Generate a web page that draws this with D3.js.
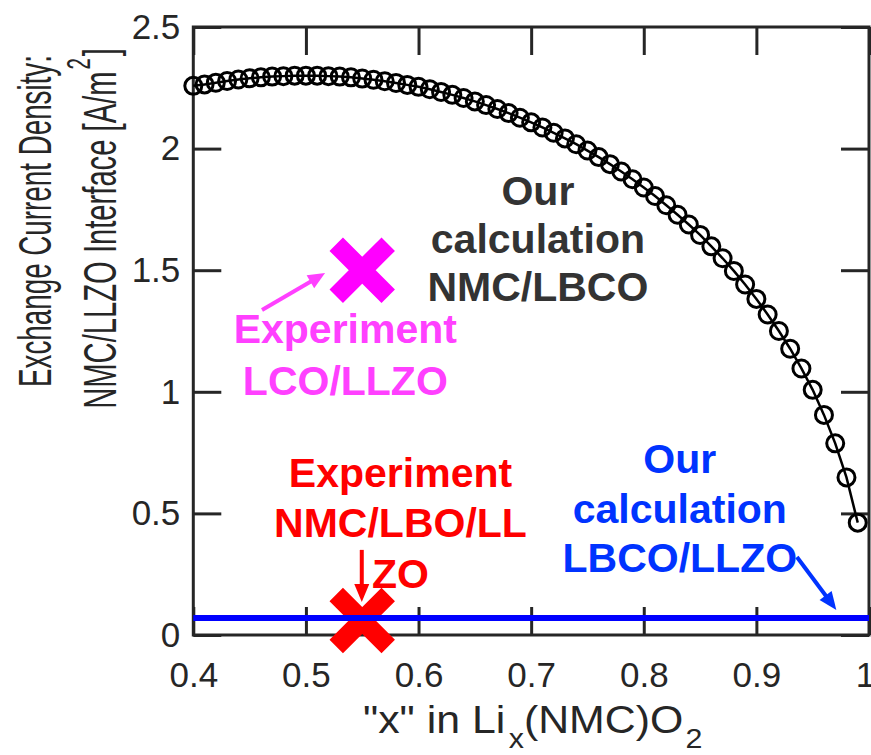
<!DOCTYPE html>
<html>
<head>
<meta charset="utf-8">
<script src="https://cdn.jsdelivr.net/npm/d3@7"></script>
<style>
  body { margin: 0; background: #fff; }
  svg { display: block; }
  text { font-family: "Liberation Sans", Arial, Helvetica, sans-serif; }
</style>
</head>
<body>
<svg id="chart" width="871" height="755"></svg>
<script>
// Li content x in Li_x(NMC)O2
const lithiumContent = [
  0.40, 0.41, 0.42, 0.43, 0.44, 0.45, 0.46, 0.47, 0.48, 0.49,
  0.50, 0.51, 0.52, 0.53, 0.54, 0.55, 0.56, 0.57, 0.58, 0.59,
  0.60, 0.61, 0.62, 0.63, 0.64, 0.65, 0.66, 0.67, 0.68, 0.69,
  0.70, 0.71, 0.72, 0.73, 0.74, 0.75, 0.76, 0.77, 0.78, 0.79,
  0.80, 0.81, 0.82, 0.83, 0.84, 0.85, 0.86, 0.87, 0.88, 0.89,
  0.90, 0.91, 0.92, 0.93, 0.94, 0.95, 0.96, 0.97, 0.98, 0.99
];
// Calculated exchange current density, NMC/LBCO [A/m^2]
const nmcLbcoDensity = [
  2.258, 2.264, 2.271, 2.278, 2.284, 2.289, 2.293, 2.296, 2.298, 2.300,
  2.300, 2.300, 2.298, 2.296, 2.293, 2.288, 2.283, 2.277, 2.270, 2.262,
  2.254, 2.244, 2.233, 2.221, 2.208, 2.194, 2.179, 2.163, 2.146, 2.127,
  2.108, 2.087, 2.065, 2.042, 2.018, 1.992, 1.965, 1.936, 1.906, 1.874,
  1.840, 1.805, 1.767, 1.728, 1.688, 1.645, 1.598, 1.549, 1.497, 1.441,
  1.382, 1.318, 1.250, 1.177, 1.096, 1.008, 0.905, 0.788, 0.648, 0.462
];
// Calculated LBCO/LLZO level [A/m^2]
const lbcoLlzoDensity = 0.07;
// Experimental points
const experimentX = [0.55, 0.55];
const experimentY = [1.5, 0.06];
const experimentColor = ["#ff00ff", "#ff0000"];

const xTicks = [0.4, 0.5, 0.6, 0.7, 0.8, 0.9, 1];
const yTicks = [0, 0.5, 1, 1.5, 2, 2.5];

const svg = d3.select("#chart");
const axisColor = "#262626";

const x = d3.scaleLinear().domain([0.4, 1]).range([193.3, 869]);
const y = d3.scaleLinear().domain([0, 2.5]).range([635, 27]);

// ---- axes (box with inward ticks) ----
const fmt = d3.format("");
function styleAxis(g) {
  g.select(".domain").remove();
  g.selectAll(".tick line").attr("stroke", axisColor).attr("stroke-width", 3);
  g.selectAll(".tick text")
    .attr("fill", axisColor)
    .style("font-size", "35px");
}
svg.append("g").attr("transform", `translate(0,${y(0)})`)
  .call(d3.axisBottom(x).tickValues(xTicks).tickFormat(fmt).tickSizeInner(-28).tickSizeOuter(0).tickPadding(27))
  .call(styleAxis)
  .call(g => g.selectAll(".tick text").filter(d => d === 1).attr("dx", -4));
svg.append("g").attr("transform", `translate(0,${y(2.5)})`)
  .call(d3.axisTop(x).tickValues(xTicks).tickFormat("").tickSizeInner(-28).tickSizeOuter(0))
  .call(styleAxis);
svg.append("g").attr("transform", `translate(${x(0.4)},0)`)
  .call(d3.axisLeft(y).tickValues(yTicks).tickFormat(fmt).tickSizeInner(-28).tickSizeOuter(0).tickPadding(13))
  .call(styleAxis);
svg.append("g").attr("transform", `translate(${x(1)},0)`)
  .call(d3.axisRight(y).tickValues(yTicks).tickFormat("").tickSizeInner(-28).tickSizeOuter(0))
  .call(styleAxis);

svg.append("rect")
  .attr("x", x(0.4)).attr("y", y(2.5))
  .attr("width", x(1) - x(0.4)).attr("height", y(0) - y(2.5))
  .attr("fill", "none").attr("stroke", axisColor).attr("stroke-width", 3);

// ---- axis labels ----
function fitText(sel, target) {
  const w = sel.node().getComputedTextLength();
  return target / w;
}
// x label
const xl = svg.append("text").attr("fill", axisColor).style("font-size", "38px");
xl.append("tspan").text('"x" in Li');
xl.append("tspan").attr("dy", 15).attr("dx", 3).style("font-size", "27px").text("x");
xl.append("tspan").attr("dy", -15).text("(NMC)O");
xl.append("tspan").attr("dy", 15).attr("dx", 2).style("font-size", "27px").text("2");
{
  const sx = fitText(xl, 334);
  xl.attr("transform", `translate(363,733) scale(${sx},1)`);
}

// y label (two lines, rotated)
const yl1 = svg.append("text").attr("fill", axisColor).style("font-size", "47px")
  .attr("text-anchor", "middle").text("Exchange Current Density:");
{
  const s = fitText(yl1, 332);
  yl1.attr("transform", `translate(51,221) rotate(-90) scale(${s},1)`);
}
const yl2 = svg.append("text").attr("fill", axisColor).style("font-size", "47px")
  .attr("text-anchor", "middle");
yl2.append("tspan").text("NMC/LLZO Interface [A/m");
yl2.append("tspan").attr("dy", -26).attr("dx", 3).style("font-size", "33px").text("2");
yl2.append("tspan").attr("dy", 26).attr("dx", 3).text("]");
{
  const s = fitText(yl2, 357);
  yl2.attr("transform", `translate(116,228.5) rotate(-90) scale(${s},1)`);
}

// ---- calculated NMC/LBCO curve ----
const pts = lithiumContent.map((v, i) => [v, nmcLbcoDensity[i]]);
svg.append("path")
  .datum(pts)
  .attr("fill", "none").attr("stroke", "#000").attr("stroke-width", 2.5)
  .attr("d", d3.line().x(d => x(d[0])).y(d => y(d[1])));
svg.append("g").selectAll("circle").data(pts).join("circle")
  .attr("cx", d => x(d[0])).attr("cy", d => y(d[1])).attr("r", 8.5)
  .attr("fill", "none").attr("stroke", "#000").attr("stroke-width", 3);

// ---- experimental crosses ----
function cross(px, py, color) {
  const d = 26;
  svg.append("path")
    .attr("d", `M${px - d},${py - d}L${px + d},${py + d}M${px - d},${py + d}L${px + d},${py - d}`)
    .attr("stroke", color).attr("stroke-width", 19).attr("stroke-linecap", "butt").attr("fill", "none");
}
cross(x(experimentX[1]), y(experimentY[1]), experimentColor[1]);

// ---- calculated LBCO/LLZO level ----
svg.append("line")
  .attr("x1", x(0.4)).attr("x2", x(1))
  .attr("y1", y(lbcoLlzoDensity)).attr("y2", y(lbcoLlzoDensity))
  .attr("stroke", "#0000ff").attr("stroke-width", 6);

cross(x(experimentX[0]), y(experimentY[0]), experimentColor[0]);

// ---- annotations ----
function label(lines, cx, by, lh, color) {
  const t = svg.append("text").attr("fill", color).attr("text-anchor", "middle")
    .style("font-size", "41px").style("font-weight", "bold");
  lines.forEach((s, i) => t.append("tspan").attr("x", x(cx)).attr("y", y(by) + i * lh).text(s));
}
function arrow(x0, y0, x1, y1, color, w, headLen, headW) {
  const ax = x(x0), ay = y(y0), bx = x(x1), by = y(y1);
  const dx = bx - ax, dy = by - ay, L = Math.hypot(dx, dy);
  const ux = dx / L, uy = dy / L;
  const hx = bx - ux * headLen, hy = by - uy * headLen;
  svg.append("line").attr("x1", ax).attr("y1", ay).attr("x2", hx + ux).attr("y2", hy + uy)
    .attr("stroke", color).attr("stroke-width", w);
  svg.append("path")
    .attr("d", `M${bx},${by}L${hx - uy * headW / 2},${hy + ux * headW / 2}L${hx + uy * headW / 2},${hy - ux * headW / 2}Z`)
    .attr("fill", color);
}

label(["Our", "calculation", "NMC/LBCO"], 0.706, 1.768, 48, "#333333");
label(["Experiment", "LCO/LLZO"], 0.535, 1.20, 52, "#ff40ff");
arrow(0.461, 1.336, 0.517, 1.488, "#ff40ff", 4, 17, 15);
label(["Experiment", "NMC/LBO/LL", "ZO"], 0.584, 0.609, 50.5, "#ff0000");
arrow(0.5496, 0.35, 0.5496, 0.136, "#ff0000", 4, 18, 15);
label(["Our", "calculation", "LBCO/LLZO"], 0.832, 0.666, 49.5, "#0033ff");
arrow(0.936, 0.321, 0.971, 0.103, "#0033ff", 4, 18, 15);
</script>
</body>
</html>
